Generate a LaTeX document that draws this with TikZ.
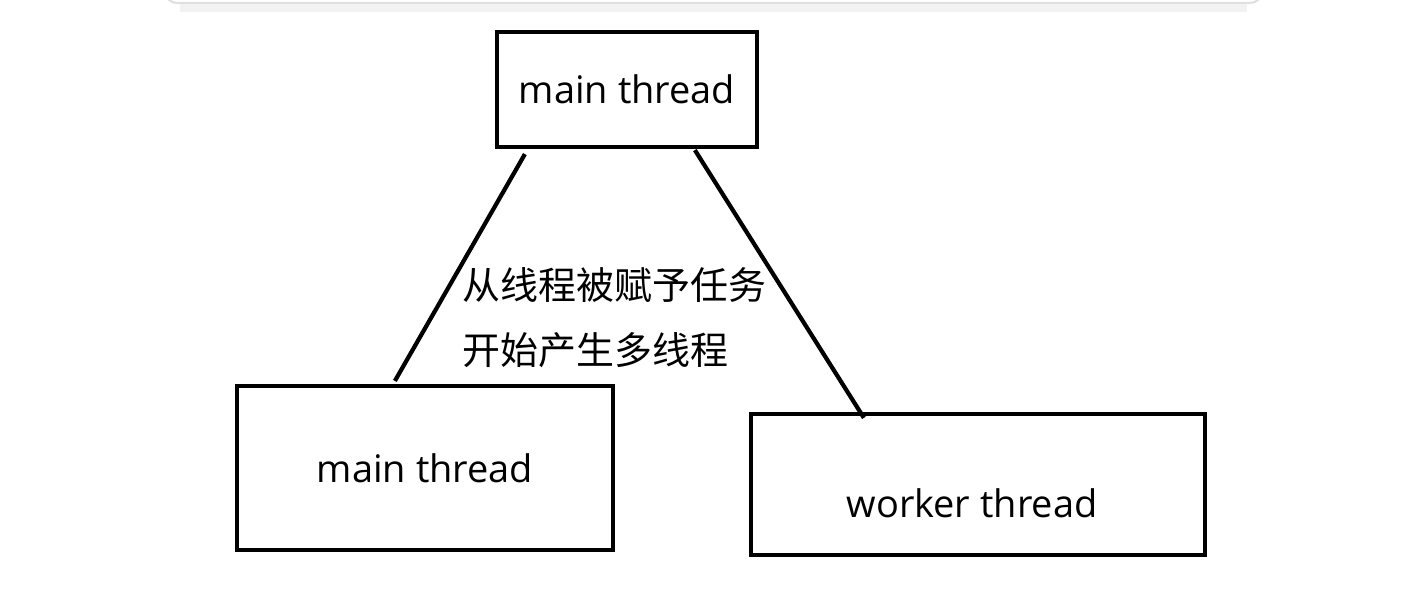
\documentclass[tikz,border=0pt]{standalone}
\usepackage{fontspec}
\setmainfont{Open Sans}
\newfontfamily\cjk{Noto Sans CJK SC}
\usepackage{tikz}
\usetikzlibrary{positioning}
\tikzset{
    box/.style = {rectangle, draw=black, line width=1.2pt, inner sep=0pt},
    boxt/.style = {box, minimum width=2.60cm, minimum height=1.15cm},
    boxl/.style = {box, minimum width=3.76cm, minimum height=1.64cm},
    boxr/.style = {box, minimum width=4.54cm, minimum height=1.41cm},
    edgen/.style = {line width=1.2pt, black},
    card/.style = {rounded corners=0.12cm, draw=black!12, line width=0.6pt},
    every picture/.style={font issue=\fontsize{10.8pt}{18.5pt}},
    font issue/.style={execute at begin picture={#1\selectfont}}
}

\begin{document}
\begin{tikzpicture}
\useasboundingbox (0,0) rectangle (14.01,6.06);

% card edge at the top
\draw[card] (1.65,6.3) -- (1.65,6.03) -- (12.62,6.03) -- (12.62,6.3);
\draw[black!5, line width=2pt] (1.8,5.98) -- (12.47,5.98);

\node[boxt] at (6.27, 5.165) (top) {main thread};
\node[boxl] at (4.25, 1.38) (mainb) {main thread};
\node[boxr, label={[xshift=-0.06cm, yshift=-0.185cm]center:worker thread}] at (9.78, 1.215) (worker) {};
%
\node[align=left, anchor=west, inner sep=0pt] at (4.62, 2.885) (task)
  {\cjk 从线程被赋予任务\\ \cjk 开始产生多线程};
%
\draw[edgen] ([xshift=0.30cm, yshift=-0.05cm]top.south west) -- ([xshift=1.60cm, yshift=0.03cm]mainb.north west);
\draw[edgen] ([xshift=2.00cm, yshift=-0.01cm]top.south west) -- ([xshift=1.15cm, yshift=-0.06cm]worker.north west);

\end{tikzpicture}
\end{document}
